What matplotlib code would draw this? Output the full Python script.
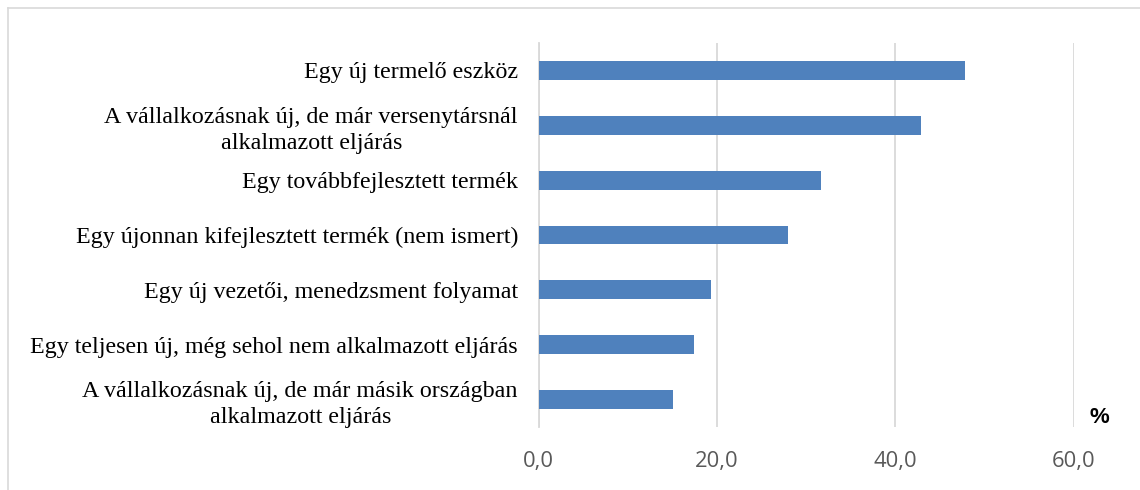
import matplotlib.pyplot as plt
from matplotlib.lines import Line2D

# adatok (felülről lefelé)
categories = [
    "Egy új termelő eszköz",
    "A vállalkozásnak új, de már versenytársnál\nalkalmazott eljárás",
    "Egy továbbfejlesztett termék",
    "Egy újonnan kifejlesztett termék (nem ismert)",
    "Egy új vezetői, menedzsment folyamat",
    "Egy teljesen új, még sehol nem alkalmazott eljárás",
    "A vállalkozásnak új, de már másik országban\nalkalmazott eljárás",
]
values = [47.8, 42.9, 31.7, 28.0, 19.3, 17.4, 15.0]
xticks = [0, 20, 40, 60]
xtick_labels = ["0,0", "20,0", "40,0", "60,0"]

fig = plt.figure(figsize=(11.4, 4.9), dpi=100)
ax = fig.add_axes([538.8 / 1140, 1 - 427 / 490, (1073.8 - 538.8) / 1140, (427 - 43) / 490])

pos = list(range(len(categories)))
ax.barh(pos, values, height=0.345, color="#4f81bd", zorder=3)
ax.set_ylim(len(categories) - 0.5, -0.5)
ax.set_xlim(0, 60)

ax.set_yticks(pos)
ax.set_yticklabels(categories, fontfamily="Liberation Serif", fontsize=17.3, color="black")
for lbl in ax.get_yticklabels():
    lbl.set_multialignment("center")
    lbl.set_linespacing(1.3)
ax.tick_params(axis="y", length=0, pad=15)

ax.set_xticks(xticks)
ax.set_xticklabels(xtick_labels, fontfamily="Open Sans", fontsize=15.8, color="#595959")
ax.tick_params(axis="x", length=0, pad=17)

# rácsvonalak
ax.grid(axis="x", color="#d9d9d9", linewidth=1.3, zorder=0)
for s in ["top", "right", "bottom"]:
    ax.spines[s].set_visible(False)
ax.spines["left"].set_color("#d9d9d9")
ax.spines["left"].set_linewidth(1.3)

fig.text(1099 / 1140, 1 - 417 / 490, "%", fontfamily="Liberation Sans", fontweight="bold",
         fontsize=16, ha="center", va="center", color="black")

# keret
fig.add_artist(Line2D([8 / 1140, 1], [1 - 8 / 490, 1 - 8 / 490], transform=fig.transFigure,
                      color="#d9d9d9", linewidth=1.2))
fig.add_artist(Line2D([8 / 1140, 8 / 1140], [0, 1 - 8 / 490], transform=fig.transFigure,
                      color="#d9d9d9", linewidth=1.2))

fig.savefig("out.png", dpi=100)
